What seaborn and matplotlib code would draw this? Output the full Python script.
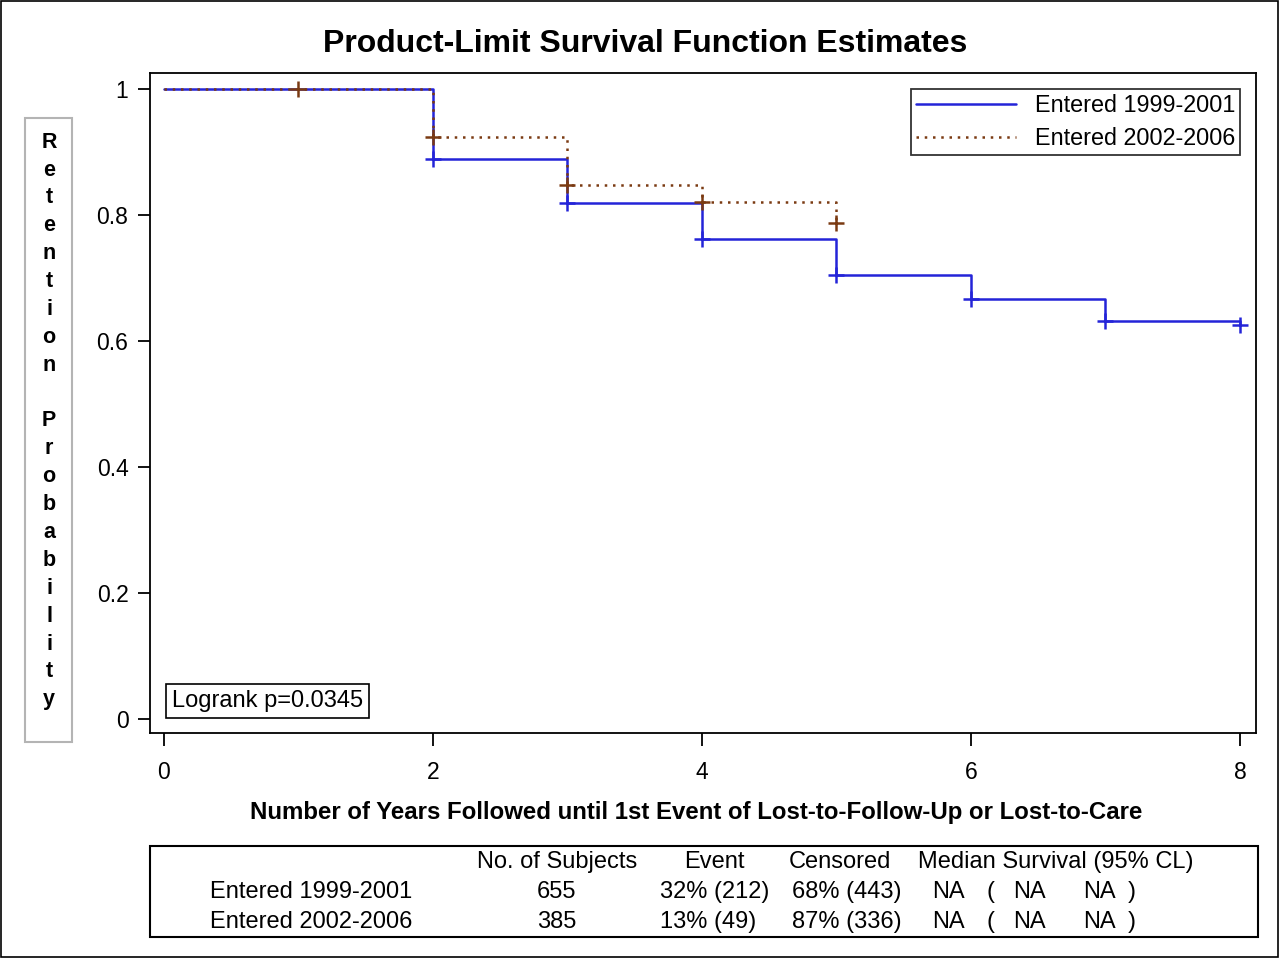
import matplotlib
matplotlib.use("Agg")
import matplotlib.pyplot as plt
import pandas as pd
import seaborn as sns
from matplotlib.patches import Rectangle

# survival steps
groups = ["Entered 1999-2001", "Entered 2002-2006"]
t_early = [0, 2, 3, 4, 5, 6, 7, 8]
s_early = [1.0, 0.889, 0.818, 0.762, 0.705, 0.667, 0.632, 0.625]
t_late = [0, 2, 3, 4, 5]
s_late = [1.0, 0.924, 0.848, 0.820, 0.787]

# censoring marks
c_early_t = [2, 3, 4, 5, 6, 7, 8]
c_early_s = [0.889, 0.818, 0.762, 0.705, 0.667, 0.632, 0.625]
c_late_t = [1, 2, 3, 4, 5]
c_late_s = [1.0, 0.924, 0.848, 0.820, 0.787]

logrank_p = "0.0345"

# summary table
tbl_header = ["No. of Subjects", "Event", "Censored", "Median Survival (95% CL)"]
tbl_subjects = ["655", "385"]
tbl_event = ["32% (212)", "13% (49)"]
tbl_censored = ["68% (443)", "87% (336)"]
tbl_median = [["NA", "(", "NA", "NA", ")"], ["NA", "(", "NA", "NA", ")"]]

BLUE = "#2424d8"
BROWN = "#7a3a12"

sns.set_style("ticks")
plt.rcParams["font.family"] = ["Liberation Sans", "DejaVu Sans"]
plt.rcParams["axes.linewidth"] = 1.3
for k in ["text.color", "xtick.color", "ytick.color", "axes.labelcolor",
          "xtick.labelcolor", "ytick.labelcolor"]:
    plt.rcParams[k] = "black"

fig = plt.figure(figsize=(12.8, 9.59), dpi=100)
W, H = 1280, 959


def fx(px):
    return px / W


def fy(py):
    return 1 - py / H


ax = fig.add_axes([fx(150), fy(733), fx(1256) - fx(150), fy(73) - fy(733)])

df_early = pd.DataFrame({"t": t_early, "s": s_early})
df_late = pd.DataFrame({"t": t_late, "s": s_late})
sns.lineplot(data=df_early, x="t", y="s", ax=ax, color=BLUE, lw=1.8,
             drawstyle="steps-post", label=groups[0], estimator=None)
sns.lineplot(data=df_late, x="t", y="s", ax=ax, color=BROWN, lw=1.8,
             drawstyle="steps-post", label=groups[1], estimator=None,
             linestyle=(0, (1, 2.3)))

sns.scatterplot(x=c_early_t, y=c_early_s, ax=ax, marker="+", s=135,
                color=BLUE, linewidth=1.8, zorder=5, legend=False)
sns.scatterplot(x=c_late_t, y=c_late_s, ax=ax, marker="+", s=135,
                color=BROWN, linewidth=1.8, zorder=6, legend=False)

ax.set_xlim(-0.104, 8.119)
ax.set_ylim(-0.022, 1.025)
ax.set_xticks([0, 2, 4, 6, 8])
ax.set_yticks([0, 0.2, 0.4, 0.6, 0.8, 1.0])
ax.set_yticklabels(["0", "0.2", "0.4", "0.6", "0.8", "1"])
ax.tick_params(axis="both", direction="out", length=9, width=1.3,
               labelsize=16.5, color="black")
ax.tick_params(axis="x", pad=11)
ax.tick_params(axis="y", pad=6.5)
for sp in ax.spines.values():
    sp.set_visible(True)
    sp.set_color("black")
ax.set_xlabel("")
ax.set_ylabel("")

leg = ax.legend(loc="upper right", bbox_to_anchor=(fx(1240 - 150) / fx(1106), 1 - 16 / 660),
                fontsize=16.8, frameon=True, fancybox=False, handlelength=4.3,
                borderaxespad=0, borderpad=0.2, labelspacing=0.45,
                handletextpad=0.8)
leg.get_frame().set_edgecolor("black")
leg.get_frame().set_linewidth(1.3)

ax.text(0.0199, 0.032, f"Logrank p={logrank_p}", transform=ax.transAxes,
        fontsize=17, va="bottom", ha="left",
        bbox=dict(boxstyle="square,pad=0.25", fc="white", ec="black", lw=1.2))

fig.text(fx(645), fy(44), "Product-Limit Survival Function Estimates",
         ha="center", va="center", fontsize=23, fontweight="bold")
fig.text(fx(696), fy(813),
         "Number of Years Followed until 1st Event of Lost-to-Follow-Up or Lost-to-Care",
         ha="center", va="center", fontsize=17.3, fontweight="bold")

# stacked y label in a grey box
fig.add_artist(Rectangle((fx(25), fy(742)), fx(72) - fx(25), fy(118) - fy(742),
                         transform=fig.transFigure, fill=False,
                         ec="#b4b4b4", lw=1.5))
ylab = "\n".join(list("Retention") + [" "] + list("Probability"))
fig.text(fx(49), fy(421), ylab, ha="center", va="center", fontsize=15.5,
         fontweight="bold", linespacing=1.43)

# table box
fig.add_artist(Rectangle((fx(150), fy(937)), fx(1258) - fx(150), fy(846) - fy(937),
                         transform=fig.transFigure, fill=False,
                         ec="black", lw=1.5))
row_y = [fy(892), fy(922)]
head_y = fy(862)
fs = 17
fig.text(fx(557), head_y, tbl_header[0], ha="center", va="center", fontsize=fs)
fig.text(fx(714), head_y, tbl_header[1], ha="center", va="center", fontsize=fs)
fig.text(fx(840), head_y, tbl_header[2], ha="center", va="center", fontsize=fs)
fig.text(fx(918), head_y, tbl_header[3], ha="left", va="center", fontsize=fs)
med_x = [932, 986, 1013, 1083, 1128]
for i, yy in enumerate(row_y):
    fig.text(fx(210), yy, groups[i], ha="left", va="center", fontsize=fs)
    fig.text(fx(557), yy, tbl_subjects[i], ha="center", va="center", fontsize=fs)
    fig.text(fx(660), yy, tbl_event[i], ha="left", va="center", fontsize=fs)
    fig.text(fx(792), yy, tbl_censored[i], ha="left", va="center", fontsize=fs)
    for part, px in zip(tbl_median[i], med_x):
        fig.text(fx(px), yy, part, ha="left", va="center", fontsize=fs)

# outer border
fig.add_artist(Rectangle((fx(1), fy(957)), fx(1278) - fx(1), fy(1) - fy(957),
                         transform=fig.transFigure, fill=False,
                         ec="black", lw=1.2))

fig.savefig("out.png", dpi=100)
